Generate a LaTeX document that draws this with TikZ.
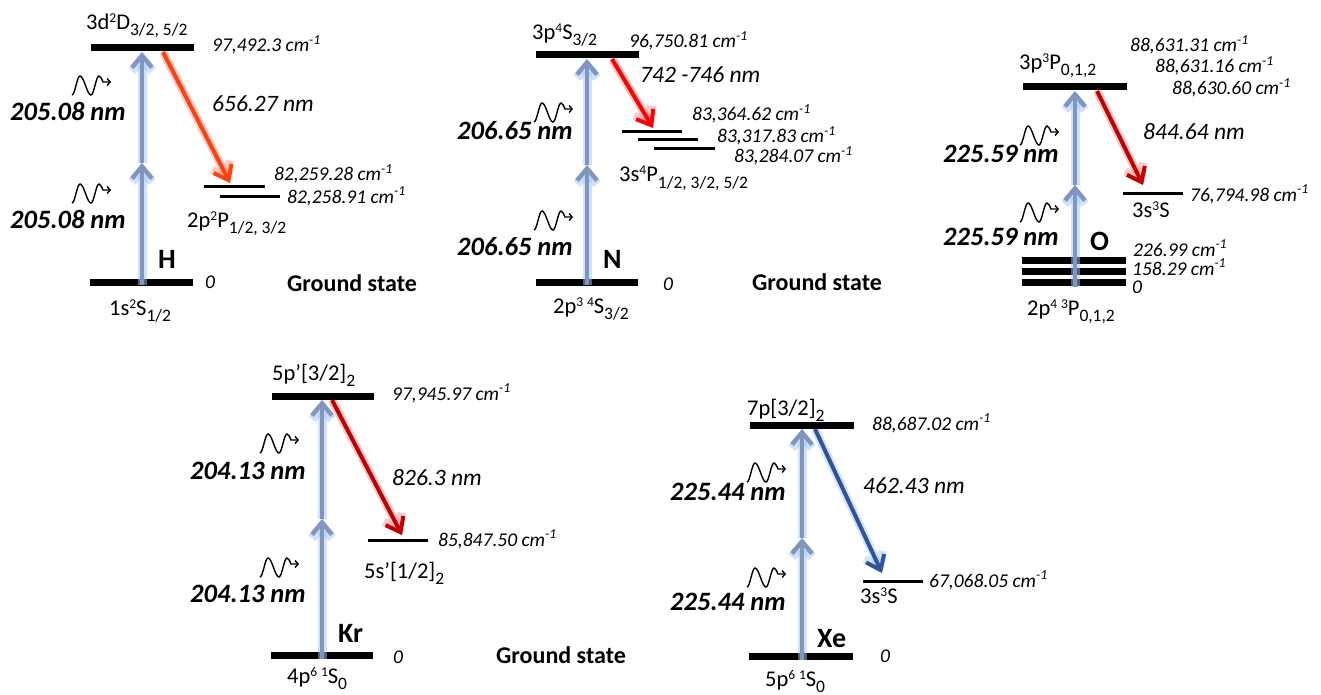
\documentclass[tikz,border=0pt]{standalone}
\usepackage{fontspec}
\setmainfont{Carlito}
\usetikzlibrary{arrows.meta}

\definecolor{pumpblue}{RGB}{128,150,190}
\definecolor{glowblue}{RGB}{160,195,250}
\definecolor{hred}{RGB}{255,64,16}
\definecolor{hglow}{RGB}{255,140,120}
\definecolor{nred}{RGB}{255,0,0}
\definecolor{nglow}{RGB}{255,130,130}
\definecolor{dred}{RGB}{192,0,0}
\definecolor{dglow}{RGB}{235,140,140}
\definecolor{xeblue}{RGB}{47,85,151}

\newcommand{\enfont}{\fontsize{19.5}{22}\selectfont\itshape}
\newcommand{\wlfont}{\fontsize{26.5}{30}\selectfont\bfseries\itshape}
\newcommand{\emfont}{\fontsize{23.5}{26}\selectfont\itshape}
\newcommand{\stfont}{\fontsize{22.5}{26}\selectfont}
\newcommand{\elfont}{\fontsize{28}{32}\selectfont\bfseries}
\newcommand{\gsfont}{\fontsize{24}{27}\selectfont\bfseries}
\newcommand{\cmi}{cm\textsuperscript{-1}}
\newcommand{\supr}[1]{\raisebox{7pt}{\fontsize{13.5}{13}\selectfont #1}}
\newcommand{\subr}[1]{\raisebox{-6pt}{\fontsize{17.5}{17}\selectfont #1}}

\begin{document}
\begin{tikzpicture}[x=1pt,y=-1pt,
	lab/.style={anchor=base west,inner sep=0pt},
	level/.style={line width=7pt},
	sublevel/.style={line width=3pt},
	pump/.style={draw=pumpblue,line width=4.5pt,-{Straight Barb[length=12pt,width=20pt]},
		preaction={draw=glowblue,line width=9pt,opacity=0.5}},
	emit/.style 2 args={draw=#1,line width=4pt,-{Straight Barb[length=13pt,width=20pt]},
		preaction={draw=#2,line width=8.5pt,opacity=0.45}},
	photon/.pic={\draw[line width=1.4pt,-{Straight Barb[length=3pt,width=7pt]}]
		(-19,10) cos (-15,0.5) sin (-11,-9) cos (-5.5,0.5) sin (0,10) cos (4,0.5) sin (8,-9) cos (12,-3) -- (20,-3);}]
	\useasboundingbox (0,0) rectangle (1321,695);

	% H
	\coordinate (Hg) at (142,285);
	\coordinate (Hm) at (142,163);
	\coordinate (Hu) at (142,52);
	\coordinate (Hd0) at (163,52);
	\coordinate (Hd1) at (230,183);
	\draw[level] (90,282)--(193,282);
	\draw[pump] (Hg)--(Hm); \draw[pump] (Hm)--(Hu);
	\draw[emit={hred}{hglow}] (Hd0)--(Hd1);
	\draw[level] (91,48)--(194,48);
	\draw[sublevel] (204,186)--(265,186) (220,196)--(280,196);
	\pic at (91,85) {photon}; \pic at (91,193) {photon};
	\node[lab] (Hup) at (86,30) {\stfont 3d\supr{2}D\subr{3/2, 5/2}};
	\node[lab] (HupE) at (212,52) {\enfont 97,492.3 \cmi};
	\node[lab] (Hwl1) at (10,121) {\wlfont 205.08 nm};
	\node[lab] (Hwl2) at (10,228) {\wlfont 205.08 nm};
	\node[lab] (Hem) at (212,112) {\emfont 656.27 nm};
	\node[lab] (HloE1) at (274,181) {\enfont 82,259.28 \cmi};
	\node[lab] (HloE2) at (287,203) {\enfont 82,258.91 \cmi};
	\node[lab] (Hlo) at (187,227) {\stfont 2p\supr{2}P\subr{1/2, 3/2}};
	\node[lab] (Hel) at (158,268) {\elfont H};
	\node[lab] (Hzero) at (205,288) {\enfont 0};
	\node[lab] (Hgs) at (287,291) {\gsfont Ground state};
	\node[lab] (Hgr) at (109,315) {\stfont 1s\supr{2}S\subr{1/2}};

	% N
	\coordinate (Ng) at (587,285);
	\coordinate (Nm) at (587,165);
	\coordinate (Nu) at (587,59);
	\coordinate (Nd0) at (612,59);
	\coordinate (Nd1) at (653,128);
	\draw[level] (536,282)--(638,282);
	\draw[pump] (Ng)--(Nm); \draw[pump] (Nm)--(Nu);
	\draw[emit={nred}{nglow}] (Nd0)--(Nd1);
	\draw[level] (536,55)--(639,55);
	\draw[sublevel] (622,132)--(682,132) (638,140)--(698,140) (654,149)--(715,149);
	\pic at (553,112) {photon}; \pic at (553,220) {photon};
	\node[lab] (Nup) at (532,40) {\stfont 3p\supr{4}S\subr{3/2}};
	\node[lab] (NupE) at (629,48) {\enfont 96,750.81 \cmi};
	\node[lab] (Nem) at (640,83) {\emfont 742 -746 nm};
	\node[lab] (NloE1) at (692,121) {\enfont 83,364.62 \cmi};
	\node[lab] (NloE2) at (717,143) {\enfont 83,317.83 \cmi};
	\node[lab] (NloE3) at (734,163) {\enfont 83,284.07 \cmi};
	\node[lab] (Nlo) at (619,182) {\stfont 3s\supr{4}P\subr{1/2, 3/2, 5/2}};
	\node[lab] (Nwl1) at (457,140) {\wlfont 206.65 nm};
	\node[lab] (Nwl2) at (457,255) {\wlfont 206.65 nm};
	\node[lab] (Nel) at (603,268) {\elfont N};
	\node[lab] (Nzero) at (663,290) {\enfont 0};
	\node[lab] (Ngs) at (752,290) {\gsfont Ground state};
	\node[lab] (Ngr) at (553,313) {\stfont 2p\supr{3}\,\supr{4}S\subr{3/2}};

	% O
	\coordinate (Og) at (1075,287);
	\coordinate (Om) at (1075,185);
	\coordinate (Ou) at (1075,91);
	\coordinate (Od0) at (1097,91);
	\coordinate (Od1) at (1143,185);
	\draw[level] (1022,260)--(1126,260) (1022,271)--(1126,271) (1022,282)--(1126,282);
	\draw[pump] (Og)--(Om); \draw[pump] (Om)--(Ou);
	\draw[emit={dred}{dglow}] (Od0)--(Od1);
	\draw[level] (1023,87)--(1127,87);
	\draw[sublevel] (1123,193)--(1183,193);
	\pic at (1039,135) {photon}; \pic at (1039,212) {photon};
	\node[lab] (Oup) at (1019,70) {\stfont 3p\supr{3}P\subr{0,1,2}};
	\node[lab] (OupE1) at (1130,52) {\enfont 88,631.31 \cmi};
	\node[lab] (OupE2) at (1155,73) {\enfont 88,631.16 \cmi};
	\node[lab] (OupE3) at (1172,95) {\enfont 88,630.60 \cmi};
	\node[lab] (Oem) at (1143,140) {\emfont 844.64 nm};
	\node[lab] (OloE) at (1190,201) {\enfont 76,794.98 \cmi};
	\node[lab] (Olo) at (1132,217) {\stfont 3s\supr{3}S};
	\node[lab] (Owl1) at (943,163) {\wlfont 225.59 nm};
	\node[lab] (Owl2) at (943,245) {\wlfont 225.59 nm};
	\node[lab] (Oel) at (1090,250) {\elfont O};
	\node[lab] (OgE2) at (1133,256) {\enfont 226.99 \cmi};
	\node[lab] (OgE1) at (1132,275) {\enfont 158.29 \cmi};
	\node[lab] (Ozero) at (1132,293) {\enfont 0};
	\node[lab] (Ogr) at (1027,315) {\stfont 2p\supr{4}\,\supr{3}P\subr{0,1,2}};

	% Kr
	\coordinate (Krg) at (322,659);
	\coordinate (Krm) at (322,519);
	\coordinate (Kru) at (322,400);
	\coordinate (Krd0) at (332,400);
	\coordinate (Krd1) at (402,535);
	\draw[level] (271,655)--(373,655);
	\draw[pump] (Krg)--(Krm); \draw[pump] (Krm)--(Kru);
	\draw[emit={dred}{dglow}] (Krd0)--(Krd1);
	\draw[level] (272,396)--(374,396);
	\draw[sublevel] (368,540)--(428,540);
	\pic at (279,443) {photon}; \pic at (279,567) {photon};
	\node[lab] (Krup) at (272,380) {\stfont 5p’[3/2]\subr{2}};
	\node[lab] (KrupE) at (392,400) {\enfont 97,945.97 \cmi};
	\node[lab] (Krem) at (392,485) {\emfont 826.3 nm};
	\node[lab] (KrloE) at (438,546) {\enfont 85,847.50 \cmi};
	\node[lab] (Krlo) at (364,578) {\stfont 5s’[1/2]\subr{2}};
	\node[lab] (Krwl1) at (190,479) {\wlfont 204.13 nm};
	\node[lab] (Krwl2) at (190,602) {\wlfont 204.13 nm};
	\node[lab] (Krel) at (338,642) {\elfont Kr};
	\node[lab] (Krzero) at (393,663) {\enfont 0};
	\node[lab] (Krgs) at (496,663) {\gsfont Ground state};
	\node[lab] (Krgr) at (287,683) {\stfont 4p\supr{6}\,\supr{1}S\subr{0}};

	% Xe
	\coordinate (Xeg) at (802,660);
	\coordinate (Xem) at (802,538);
	\coordinate (Xeu) at (802,429);
	\coordinate (Xed0) at (815,429);
	\coordinate (Xed1) at (882,573);
	\draw[level] (749,656)--(853,656);
	\draw[pump] (Xeg)--(Xem); \draw[pump] (Xem)--(Xeu);
	\draw[emit={xeblue}{glowblue}] (Xed0)--(Xed1);
	\draw[level] (750,425)--(854,425);
	\draw[sublevel] (863,581)--(923,581);
	\pic at (766,472) {photon}; \pic at (766,577) {photon};
	\node[lab] (Xeup) at (747,415) {\stfont 7p[3/2]\subr{2}};
	\node[lab] (XeupE) at (872,430) {\enfont 88,687.02 \cmi};
	\node[lab] (Xeem) at (863,493) {\emfont 462.43 nm};
	\node[lab] (XeloE) at (929,587) {\enfont 67,068.05 \cmi};
	\node[lab] (Xelo) at (860,603) {\stfont 3s\supr{3}S};
	\node[lab] (Xewl1) at (670,500) {\wlfont 225.44 nm};
	\node[lab] (Xewl2) at (670,610) {\wlfont 225.44 nm};
	\node[lab] (Xeel) at (817,647) {\elfont Xe};
	\node[lab] (Xezero) at (880,662) {\enfont 0};
	\node[lab] (Xegr) at (765,686) {\stfont 5p\supr{6}\,\supr{1}S\subr{0}};
\end{tikzpicture}
\end{document}
